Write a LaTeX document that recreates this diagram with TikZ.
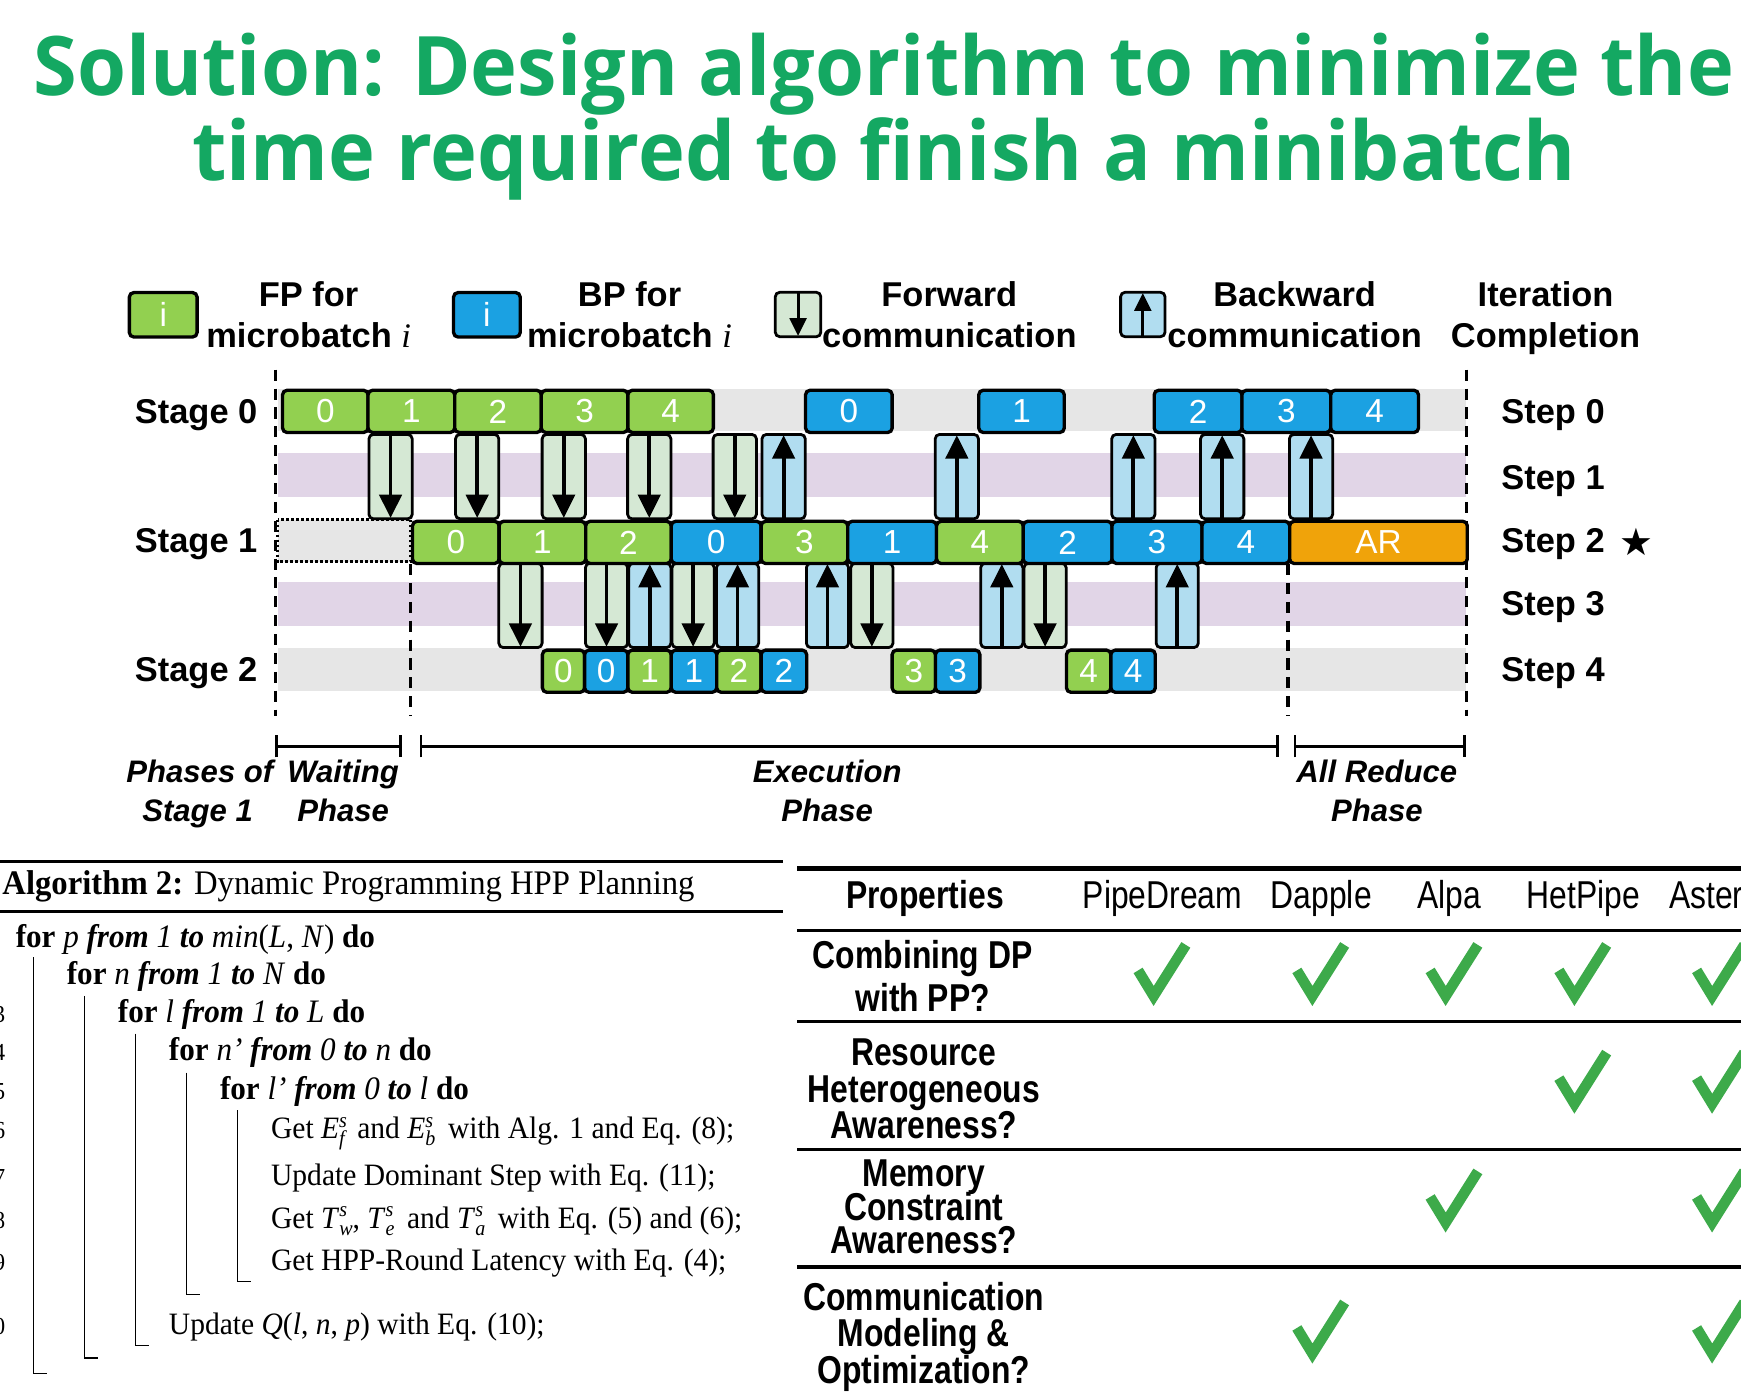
\documentclass[tikz,border=0pt]{standalone}
\usepackage{fontspec}
\usetikzlibrary{arrows.meta}
\setmainfont{Liberation Serif}
\newfontfamily\titlefont[FakeStretch=0.965]{Open Sans}
\newfontfamily\lblfont{Liberation Sans}
\newfontfamily\tabfont[FakeStretch=0.82]{Liberation Sans}
\newfontfamily\algfont[FakeStretch=0.95]{Liberation Serif}
\newfontfamily\symfont{DejaVu Sans}

\definecolor{titlegreen}{HTML}{14A862}
\definecolor{fpgreen}{HTML}{92D050}
\definecolor{bpblue}{HTML}{1BA1E2}
\definecolor{arorange}{HTML}{F0A30A}
\definecolor{fwdfill}{HTML}{D5E8D4}
\definecolor{bwdfill}{HTML}{B1DDF0}
\definecolor{bandgray}{HTML}{E6E6E6}
\definecolor{bandpurple}{HTML}{E1D5E7}
\definecolor{checkgreen}{HTML}{3DAA4A}

% one job block: name, style, x-left, x-right, y-top, label
\newcommand\job[6]{\node[#2, minimum width={#4-#3}, anchor=north west] (#1) at (#3,#5) {#6};}
% forward / backward communication: name, x-left, x-right, y-top
\newcommand\fwd[4]{%
  \node[commbox, fill=fwdfill, minimum width={#3-#2}, anchor=north west] (#1) at (#2,#4) {};
  \draw[commarrow] ([yshift=-1pt]#1.north) -- ([yshift=2pt]#1.south);}
\newcommand\bwd[4]{%
  \node[commbox, fill=bwdfill, minimum width={#3-#2}, anchor=north west] (#1) at (#2,#4) {};
  \draw[commarrow] ([yshift=1pt]#1.south) -- ([yshift=-2pt]#1.north);}
% stacked superscript and subscript in the algorithm text
\newcommand\supsub[2]{\rlap{\raisebox{10pt}{\fontsize{19}{19}\selectfont\itshape #1}}\raisebox{-7pt}{\fontsize{19}{19}\selectfont\itshape #2}}

\tikzset{
  job/.style={draw=black, line width=3pt, rounded corners=4pt, minimum height=38pt,
    inner sep=0pt, text=white, font=\lblfont\fontsize{30}{30}\selectfont},
  fpjob/.style={job, fill=fpgreen},
  bpjob/.style={job, fill=bpblue},
  arjob/.style={job, fill=arorange},
  commbox/.style={draw=black, line width=2.5pt, rounded corners=4pt, minimum height=76pt, inner sep=0pt},
  commarrow/.style={line width=3.4pt, -{Triangle[width=20pt,length=21pt]}},
  lbl/.style={inner sep=0pt, font=\lblfont\bfseries\fontsize{31}{31}\selectfont},
  phase/.style={inner sep=0pt, font=\lblfont\bfseries\itshape\fontsize{28}{28}\selectfont},
  algtxt/.style={inner sep=0pt, anchor=base west, font=\algfont\fontsize{28}{28}\selectfont},
  loopline/.style={algtxt, font=\algfont\fontsize{29.5}{29.5}\selectfont},
  tabhead/.style={inner sep=0pt, anchor=base, font=\tabfont\fontsize{35}{35}\selectfont},
  tabrow/.style={inner sep=0pt, anchor=base, font=\tabfont\bfseries\fontsize{35}{35}\selectfont},
  guide/.style={line width=2.8pt, dash pattern=on 10pt off 7pt},
  algrule/.style={line width=1.2pt},
  checkmk/.pic={\draw[line width=9.5pt, checkgreen, miter limit=10] (-22,-2) -- (-8,21) -- (21,-25);}
}

\begin{document}
\begin{tikzpicture}[x=1pt, y=-1pt]
\useasboundingbox (0,0) rectangle (1568,1253);
\fill[white] (0,0) rectangle (1568,1253);

% ---------- title ----------
\node[inner sep=0pt, anchor=base, text=titlegreen, font=\titlefont\bfseries\fontsize{74}{74}\selectfont]
  (title1) at (796,86) {Solution: Design algorithm to minimize the};
\node[inner sep=0pt, anchor=base, text=titlegreen, font=\titlefont\bfseries\fontsize{74}{74}\selectfont]
  (title2) at (796,163) {time required to finish a minibatch};

% ---------- legend ----------
\node[fpjob, minimum width=61, minimum height=40, anchor=north west] (legfp) at (115,262) {i};
\node[lbl, anchor=base] (legfpa) at (278,276) {FP for};
\node[lbl, anchor=base] (legfpb) at (278,313) {microbatch {\rmfamily\mdseries\itshape i}};
\node[bpjob, minimum width=60, minimum height=40, anchor=north west] (legbp) at (407,262) {i};
\node[lbl, anchor=base] (legbpa) at (567,276) {BP for};
\node[lbl, anchor=base] (legbpb) at (567,313) {microbatch {\rmfamily\mdseries\itshape i}};
\node[commbox, fill=fwdfill, minimum width=41, minimum height=40, anchor=north west] (legfw) at (697,262) {};
\draw[line width=2.8pt, -{Triangle[width=15pt,length=16pt]}] ([yshift=-1pt]legfw.north) -- ([yshift=2pt]legfw.south);
\node[lbl, anchor=base] (legfwa) at (855,276) {Forward};
\node[lbl, anchor=base] (legfwb) at (855,313) {communication};
\node[commbox, fill=bwdfill, minimum width=40, minimum height=40, anchor=north west] (legbw) at (1008,262) {};
\draw[line width=2.8pt, -{Triangle[width=15pt,length=16pt]}] ([yshift=1pt]legbw.south) -- ([yshift=-2pt]legbw.north);
\node[lbl, anchor=base] (legbwa) at (1166,276) {Backward};
\node[lbl, anchor=base] (legbwb) at (1166,313) {communication};
\node[lbl, anchor=base] (legita) at (1392,276) {Iteration};
\node[lbl, anchor=base] (legitb) at (1392,313) {Completion};

% ---------- background bands ----------
\fill[bandgray] (250,350) rectangle (1320,388);
\fill[bandpurple] (250,408) rectangle (1320,448);
\fill[bandgray] (250,468) rectangle (1320,506);
\fill[bandpurple] (250,524) rectangle (1320,564);
\fill[bandgray] (250,584) rectangle (1320,622);

% ---------- phase guides ----------
\coordinate (gA1) at (248,333); \coordinate (gA2) at (248,645);
\coordinate (gB1) at (370,508); \coordinate (gB2) at (370,645);
\coordinate (gC1) at (1160,508); \coordinate (gC2) at (1160,645);
\coordinate (gD1) at (1321,333); \coordinate (gD2) at (1321,645);
\draw[guide] (gA1) -- (gA2);
\draw[guide] (gB1) -- (gB2);
\draw[guide] (gC1) -- (gC2);
\draw[guide] (gD1) -- (gD2);

% waiting slot of stage 1
\draw[line width=2.5pt, dotted, fill=bandgray] (250,468) rectangle (370,506);

% ---------- communication, stage 0 <-> stage 1 ----------
\fwd{fa1}{331}{370}{390}
\fwd{fa2}{409}{448}{390}
\fwd{fa3}{487}{526}{390}
\fwd{fa4}{564}{603}{390}
\fwd{fa5}{641}{680}{390}
\bwd{ba0}{685}{724}{390}
\bwd{ba1}{841}{880}{390}
\bwd{ba2}{1000}{1039}{390}
\bwd{ba3}{1080}{1119}{390}
\bwd{ba4}{1160}{1199}{390}

% ---------- communication, stage 1 <-> stage 2 ----------
\fwd{fb0}{448}{487}{506}
\fwd{fb1}{526}{564}{506}
\bwd{bb0}{565}{603}{506}
\fwd{fb2}{604}{642}{506}
\bwd{bb1}{644}{682}{506}
\bwd{bb2}{725}{763}{506}
\fwd{fb3}{765}{803}{506}
\bwd{bb3}{882}{920}{506}
\fwd{fb4}{921}{959}{506}
\bwd{bb4}{1040}{1078}{506}

% ---------- stage 0 ----------
\job{s0f0}{fpjob}{253}{330}{350}{0}
\job{s0f1}{fpjob}{330}{408}{350}{1}
\job{s0f2}{fpjob}{408}{486}{350}{2}
\job{s0f3}{fpjob}{486}{564}{350}{3}
\job{s0f4}{fpjob}{564}{641}{350}{4}
\job{s0b0}{bpjob}{724}{802}{350}{0}
\job{s0b1}{bpjob}{880}{957}{350}{1}
\job{s0b2}{bpjob}{1038}{1117}{350}{2}
\job{s0b3}{bpjob}{1117}{1197}{350}{3}
\job{s0b4}{bpjob}{1197}{1276}{350}{4}

% ---------- stage 1 ----------
\job{s1f0}{fpjob}{370}{448}{468}{0}
\job{s1f1}{fpjob}{448}{526}{468}{1}
\job{s1f2}{fpjob}{526}{603}{468}{2}
\job{s1b0}{bpjob}{603}{684}{468}{0}
\job{s1f3}{fpjob}{684}{762}{468}{3}
\job{s1b1}{bpjob}{762}{842}{468}{1}
\job{s1f4}{fpjob}{842}{920}{468}{4}
\job{s1b2}{bpjob}{920}{1000}{468}{2}
\job{s1b3}{bpjob}{1000}{1081}{468}{3}
\job{s1b4}{bpjob}{1081}{1160}{468}{4}
\job{s1ar}{arjob}{1160}{1320}{468}{AR}

% ---------- stage 2 ----------
\job{s2f0}{fpjob}{487}{525}{584}{0}
\job{s2b0}{bpjob}{525}{564}{584}{0}
\job{s2f1}{fpjob}{564}{603}{584}{1}
\job{s2b1}{bpjob}{603}{644}{584}{1}
\job{s2f2}{fpjob}{644}{684}{584}{2}
\job{s2b2}{bpjob}{684}{725}{584}{2}
\job{s2f3}{fpjob}{802}{841}{584}{3}
\job{s2b3}{bpjob}{841}{881}{584}{3}
\job{s2f4}{fpjob}{959}{999}{584}{4}
\job{s2b4}{bpjob}{999}{1039}{584}{4}

% ---------- row labels ----------
\node[lbl, anchor=base east] (st0) at (232,381) {Stage 0};
\node[lbl, anchor=base east] (st1) at (232,498) {Stage 1};
\node[lbl, anchor=base east] (st2) at (232,614) {Stage 2};
\node[lbl, anchor=base west] (sp0) at (1352,381) {Step 0};
\node[lbl, anchor=base west] (sp1) at (1352,441) {Step 1};
\node[lbl, anchor=base west] (sp2) at (1352,498) {Step 2};
\node[lbl, anchor=base west] (sp3) at (1352,554) {Step 3};
\node[lbl, anchor=base west] (sp4) at (1352,614) {Step 4};
\node[inner sep=0pt, font=\symfont\fontsize{34}{34}\selectfont] (star) at (1474,488) {★};

% ---------- phase brackets ----------
\coordinate (pw1) at (248,672); \coordinate (pw2) at (362,672);
\coordinate (pe1) at (378,672); \coordinate (pe2) at (1152,672);
\coordinate (pr1) at (1165,672); \coordinate (pr2) at (1320,672);
\draw[line width=2.5pt, {Bar[width=20pt]}-{Bar[width=20pt]}] (pw1) -- (pw2);
\draw[line width=2.5pt, {Bar[width=20pt]}-{Bar[width=20pt]}] (pe1) -- (pe2);
\draw[line width=2.5pt, {Bar[width=20pt]}-{Bar[width=20pt]}] (pr1) -- (pr2);
\node[phase, anchor=base] (ph1a) at (180,705) {Phases of};
\node[phase, anchor=base] (ph1b) at (178,740) {Stage 1};
\node[phase, anchor=base] (ph2a) at (309,705) {Waiting};
\node[phase, anchor=base] (ph2b) at (309,740) {Phase};
\node[phase, anchor=base] (ph3a) at (745,705) {Execution};
\node[phase, anchor=base] (ph3b) at (745,740) {Phase};
\node[phase, anchor=base] (ph4a) at (1240,705) {All Reduce};
\node[phase, anchor=base] (ph4b) at (1240,740) {Phase};

% ---------- algorithm ----------
\draw[line width=2.2pt] (0,776) -- (705,776);
\draw[line width=2.2pt] (0,821) -- (705,821);
\node[algtxt, font=\algfont\fontsize{31}{31}\selectfont] (alghead) at (2,806) {\textbf{Algorithm 2:} Dynamic Programming HPP Planning};
\node[loopline] (a1) at (14,853) {\textbf{for} \textit{p} \textbf{\textit{from}} \textit{1} \textbf{\textit{to}} \textit{min}(\textit{L}, \textit{N}) \textbf{do}};
\node[loopline] (a2) at (60,887) {\textbf{for} \textit{n} \textbf{\textit{from}} \textit{1} \textbf{\textit{to}} \textit{N} \textbf{do}};
\node[loopline] (a3) at (106,921) {\textbf{for} \textit{l} \textbf{\textit{from}} \textit{1} \textbf{\textit{to}} \textit{L} \textbf{do}};
\node[loopline] (a4) at (152,955) {\textbf{for} \textit{n’} \textbf{\textit{from}} \textit{0} \textbf{\textit{to}} \textit{n} \textbf{do}};
\node[loopline] (a5) at (198,990) {\textbf{for} \textit{l’} \textbf{\textit{from}} \textit{0} \textbf{\textit{to}} \textit{l} \textbf{do}};
\node[algtxt] (a6) at (244,1025) {Get \textit{E}\supsub{s}{f}\, and \textit{E}\supsub{s}{b}\, with Alg. 1 and Eq. (8);};
\node[algtxt] (a7) at (244,1068) {Update Dominant Step with Eq. (11);};
\node[algtxt] (a8) at (244,1106) {Get \textit{T}\supsub{s}{w}, \textit{T}\supsub{s}{e}\, and \textit{T}\supsub{s}{a}\, with Eq. (5) and (6);};
\node[algtxt] (a9) at (244,1144) {Get HPP-Round Latency with Eq. (4);};
\node[algtxt] (a10) at (152,1202) {Update \textit{Q}(\textit{l}, \textit{n}, \textit{p}) with Eq. (10);};
% line numbers, mostly beyond the left edge
\foreach \n/\yy in {3/921,4/955,5/990,6/1025,7/1068,8/1106,9/1144,10/1202}
  \node[inner sep=0pt, anchor=base east, font=\algfont\fontsize{22}{22}\selectfont] (ln\n) at (5,\yy) {\n};
% block guides
\draw[algrule] (30,862) -- (30,1237) -- (42,1237);
\draw[algrule] (76,897) -- (76,1223) -- (88,1223);
\draw[algrule] (122,931) -- (122,1212) -- (134,1212);
\draw[algrule] (168,966) -- (168,1166) -- (180,1166);
\draw[algrule] (214,1000) -- (214,1154) -- (226,1154);

% ---------- comparison table ----------
\draw[line width=4pt] (718,782) -- (1568,782);
\draw[line width=3pt] (718,838) -- (1568,838);
\draw[line width=3pt] (718,920) -- (1568,920);
\draw[line width=3pt] (718,1035) -- (1568,1035);
\draw[line width=3pt] (718,1141) -- (1568,1141);
\node[tabrow] (hprop) at (833,818) {Properties};
\node[tabhead] (hpd) at (1047,818) {PipeDream};
\node[tabhead] (hda) at (1190,818) {Dapple};
\node[tabhead] (hal) at (1305,818) {Alpa};
\node[tabhead] (hhp) at (1426,818) {HetPipe};
\node[tabhead, anchor=base west] (has) at (1503,818) {Asteroid};
\node[tabrow] (r1a) at (831,872) {Combining DP};
\node[tabrow] (r1b) at (831,911) {with PP?};
\node[tabrow] (r2a) at (832,960) {Resource};
\node[tabrow] (r2b) at (832,993) {Heterogeneous};
\node[tabrow] (r2c) at (832,1025) {Awareness?};
\node[tabrow] (r3a) at (832,1069) {Memory};
\node[tabrow] (r3b) at (832,1099) {Constraint};
\node[tabrow] (r3c) at (832,1129) {Awareness?};
\node[tabrow] (r4a) at (832,1180) {Communication};
\node[tabrow] (r4b) at (832,1213) {Modeling \&};
\node[tabrow] (r4c) at (832,1246) {Optimization?};
\foreach \cx in {1047,1190,1310,1426,1550} \pic at (\cx,876) {checkmk};
\foreach \cx in {1426,1550} \pic at (\cx,973) {checkmk};
\foreach \cx in {1310,1550} \pic at (\cx,1080) {checkmk};
\foreach \cx in {1190,1550} \pic at (\cx,1198) {checkmk};
\end{tikzpicture}
\end{document}
